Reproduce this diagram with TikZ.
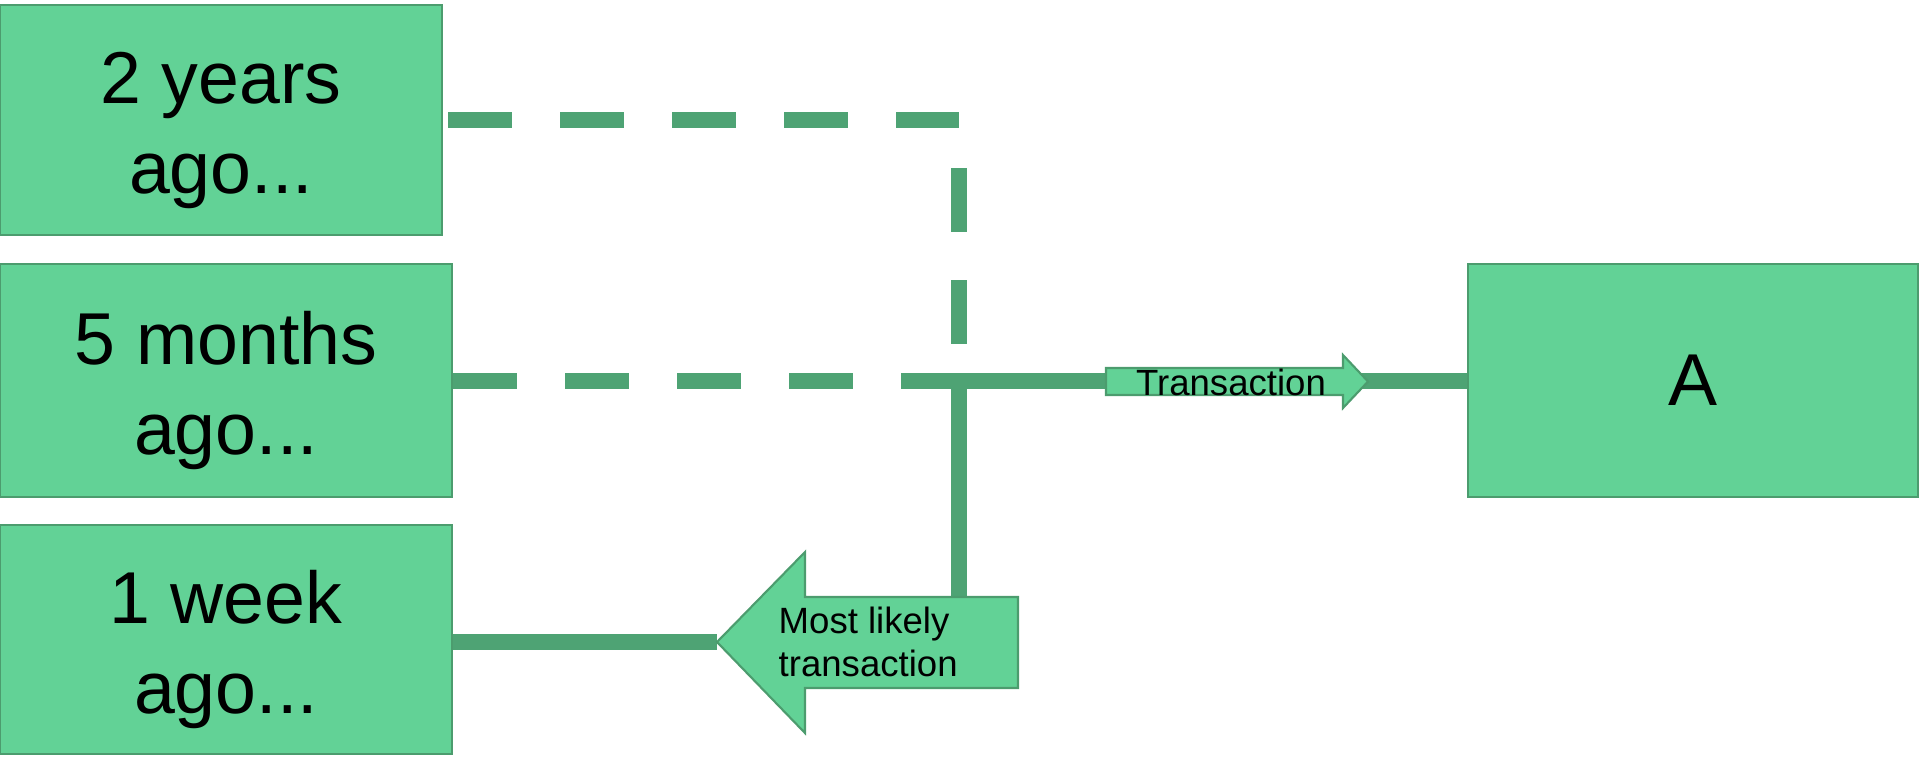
\documentclass[tikz,border=0pt]{standalone}
\usepackage{fontspec}
\setmainfont{Liberation Sans}
\definecolor{boxfill}{HTML}{62D296}
\definecolor{linkgreen}{HTML}{4EA374}
\definecolor{edgegreen}{HTML}{4C9C6E}
\tikzset{
  agebox/.style={draw=edgegreen, line width=0.6pt, fill=boxfill, align=center, inner sep=0pt,
    font=\fontsize{20.9pt}{25.6pt}\selectfont},
  link/.style={linkgreen, line width=4.55pt},
  oldlink/.style={link, dash pattern=on 18.21pt off 13.66pt},
  tag/.style={draw=edgegreen, line width=0.6pt, fill=boxfill},
  tagtext/.style={inner sep=0pt, align=left, font=\fontsize{10.4pt}{12.2pt}\selectfont}
}
\newcommand{\tallrow}{\rule{0pt}{20.7pt}}

\begin{document}
\begin{tikzpicture}[x=0.01cm, y=-0.01cm]
   \useasboundingbox (0,0) rectangle (1920,756);
   % time boxes
   \node[agebox, minimum width=4.42cm, minimum height=2.30cm] (twoyears) at (221,120) {\tallrow 2 years\\ago...};
   \node[agebox, minimum width=4.52cm, minimum height=2.33cm] (fivemonths) at (226,380.5) {\tallrow 5 months\\ago...};
   \node[agebox, minimum width=4.52cm, minimum height=2.29cm] (oneweek) at (226,639.5) {\tallrow 1 week\\ago...};
   \node[agebox, minimum width=4.50cm, minimum height=2.33cm] (target) at (1693,380.5) {A};
   % links
   \coordinate (meet) at (959,380.5);
   \coordinate (bend) at (959,120);
   \coordinate (likelytop) at (959,597);
   \coordinate (likelytip) at (717,642);
   \draw[oldlink] ([xshift=0.05cm]twoyears.east) -- (bend);
   \draw[oldlink, dash phase=18.21pt] (bend) -- (meet);
   \draw[oldlink] (fivemonths.east) -- (fivemonths.east -| meet);
   \draw[link] (meet) -- (target.west);
   \draw[link] (meet) -- (likelytop);
   \draw[link] (oneweek.east |- likelytip) -- (likelytip);
   % arrow tags
   \draw[tag] (1106,368) -- (1343,368) -- (1343,355) -- (1368,381.5) -- (1343,408) -- (1343,395) -- (1106,395) -- cycle;
   \node[tagtext] (txlabel) at (1231,382) {Transaction};
   \draw[tag] (1018,688) -- (1018,597) -- (805,597) -- (805,552) -- (likelytip) -- (805,733) -- (805,688) -- cycle;
   \node[tagtext, anchor=west] (likelylabel) at (778,642) {Most likely\\transaction};
\end{tikzpicture}
\end{document}
